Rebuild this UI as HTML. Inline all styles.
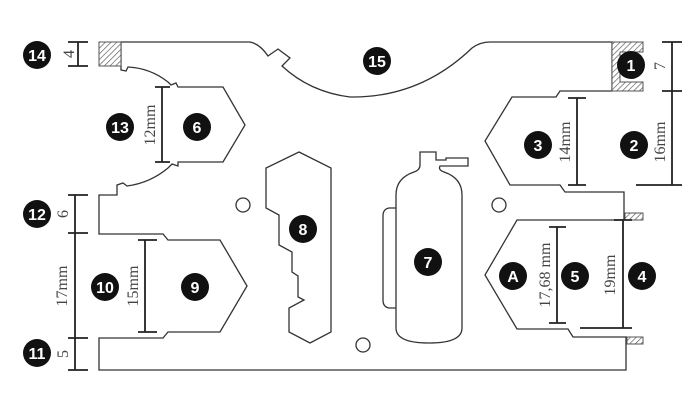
<!DOCTYPE html>
<html><head><meta charset="utf-8"><style>
html,body{margin:0;padding:0;background:#fff;}
svg{display:block;}
.o{fill:none;stroke:#333;stroke-width:1.3;stroke-linejoin:miter;}
.d{fill:none;stroke:#222;stroke-width:1.8;}
.b{fill:#111;}
.bt{fill:#fff;font-family:"Liberation Sans",sans-serif;font-weight:bold;font-size:16px;text-anchor:middle;}
.lt{fill:#444;font-family:"Liberation Serif",serif;font-size:16px;text-anchor:middle;}
</style></head><body>
<svg width="697" height="403" viewBox="0 0 697 403" xmlns="http://www.w3.org/2000/svg">
<defs><pattern id="h" width="4" height="4" patternUnits="userSpaceOnUse" patternTransform="rotate(45)"><rect width="4" height="4" fill="#fff"/><line x1="0" y1="0" x2="0" y2="4" stroke="#555" stroke-width="1.3"/></pattern></defs>
<path class="o" d="M121,42 L250,42 Q260,44 268,56 L278,49 L290,58 L282,66 Q310,92 350,97 Q420,98 472,48 Q480,42 490,42 L612,42 L612,91 L560,91 L556,97 L512,97 L485,141 L510,185 L560,185 L565,192 L624,192 L624,220 L517,220 L485,275 L517,329 L568,329 L573,337 L626,337 L626,370 L99,370 L99,338 L163,338 L168,332 L220,332 L247,286 L220,240 L168,240 L163,234 L99,234 L99,195 L117,195 L117,185 L123,183 L127,186 Q150,183 168,168 L172,164 L178,166 L178,162 L223,162 L245,125 L223,87 L178,87 L176,83 L171,85 L168,82 Q150,68 128,67 L126,71 L121,70 Z"/>
<rect x="99" y="42" width="22" height="24" fill="url(#h)" stroke="#555" stroke-width="1"/>
<path d="M612,42 L643,42 L643,52 L620,52 L620,82 L643,82 L643,91 L612,91 Z" fill="url(#h)" stroke="#555" stroke-width="1"/>
<rect x="625" y="213" width="18" height="7" fill="url(#h)" stroke="#555" stroke-width="1"/>
<rect x="627" y="337" width="16" height="7" fill="url(#h)" stroke="#555" stroke-width="1"/>
<circle class="o" cx="243" cy="205" r="7"/>
<circle class="o" cx="499" cy="205" r="7"/>
<circle class="o" cx="363" cy="345" r="7"/>
<path class="o" d="M299,152 L331,168 L331,332 L310,343 L289,332 L289,308 L304,300 L298,297 L298,276 L292,272 L292,252 L279,245 L279,215 L266,208 L266,168 Z"/>
<path class="o" d="M420,152 L436,152 L436,160 L446,160 L446,158 L468,158 L468,166 L446,166 L440,166 Q438,170 444,172 Q462,178 462,195 L462,328 Q462,343 429,343 Q396,343 396,328 L396,195 Q396,178 414,172 Q420,170 420,165 Z"/>
<path class="o" d="M396,208 L389,208 Q383,209 383,216 L383,300 Q383,307 389,308 L396,308"/>
<g class="d">
<path d="M68,42 H88 M78,42 V66 M68,66 H88"/>
<path d="M155,87 H170 M162,87 V162 M155,162 H170"/>
<path d="M68,195 H88 M75,195 V370 M68,233 H88 M68,338 H88 M68,370 H88"/>
<path d="M138,240 H157 M145,240 V332 M138,332 H157"/>
<path d="M568,98 H586 M577,98 V185 M568,185 H586"/>
<path d="M662,42 H682 M672,42 V185 M662,91 H682 M636,185 H682"/>
<path d="M549,227 H566 M557,227 V323 M549,323 H566"/>
<path d="M614,220 H632 M623,220 V328 M580,328 H632"/>
</g>
<g class="lt">
<text transform="translate(69,54) rotate(-90)" y="5">4</text>
<text transform="translate(150,125) rotate(-90)" y="5">12mm</text>
<text transform="translate(63,214) rotate(-90)" y="5">6</text>
<text transform="translate(62,286) rotate(-90)" y="5">17mm</text>
<text transform="translate(63,354) rotate(-90)" y="5">5</text>
<text transform="translate(133,286) rotate(-90)" y="5">15mm</text>
<text transform="translate(565,142) rotate(-90)" y="5">14mm</text>
<text transform="translate(660,66) rotate(-90)" y="5">7</text>
<text transform="translate(660,142) rotate(-90)" y="5">16mm</text>
<text transform="translate(545,275) rotate(-90)" y="5">17,68 mm</text>
<text transform="translate(610,275) rotate(-90)" y="5">19mm</text>
</g>
<g>
<circle class="b" cx="37" cy="55" r="14"/><text class="bt" x="37" y="61">14</text>
<circle class="b" cx="120" cy="127" r="14"/><text class="bt" x="120" y="133">13</text>
<circle class="b" cx="197" cy="127" r="14"/><text class="bt" x="197" y="133">6</text>
<circle class="b" cx="37" cy="214" r="14"/><text class="bt" x="37" y="220">12</text>
<circle class="b" cx="105" cy="287" r="14"/><text class="bt" x="105" y="293">10</text>
<circle class="b" cx="195" cy="287" r="14"/><text class="bt" x="195" y="293">9</text>
<circle class="b" cx="37" cy="353" r="14"/><text class="bt" x="37" y="359">11</text>
<circle class="b" cx="377" cy="61" r="14"/><text class="bt" x="377" y="67">15</text>
<circle class="b" cx="631" cy="65" r="14"/><text class="bt" x="631" y="71">1</text>
<circle class="b" cx="538" cy="145" r="14"/><text class="bt" x="538" y="151">3</text>
<circle class="b" cx="634" cy="145" r="14"/><text class="bt" x="634" y="151">2</text>
<circle class="b" cx="303" cy="229" r="14"/><text class="bt" x="303" y="235">8</text>
<circle class="b" cx="428" cy="262" r="14"/><text class="bt" x="428" y="268">7</text>
<circle class="b" cx="513" cy="276" r="14"/><text class="bt" x="513" y="282">A</text>
<circle class="b" cx="575" cy="276" r="14"/><text class="bt" x="575" y="282">5</text>
<circle class="b" cx="642" cy="276" r="14"/><text class="bt" x="642" y="282">4</text>
</g>
</svg>
</body></html>
